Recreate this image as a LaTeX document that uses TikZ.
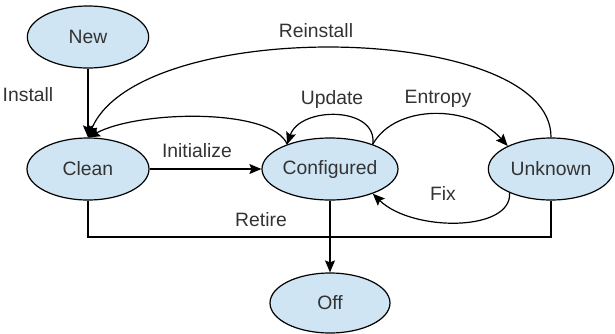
\documentclass[tikz,border=0pt]{standalone}
\usepackage{fontspec}
\setmainfont{Liberation Sans}
\usetikzlibrary{shapes.geometric, arrows.meta}
\definecolor{statefill}{RGB}{207,229,243}
\definecolor{labelgray}{RGB}{51,51,51}

\begin{document}
\begin{tikzpicture}[x=0.75pt, y=-0.75pt, line width=0.9pt,
    state/.style={ellipse, draw, fill=statefill, inner sep=0pt,
      minimum height=46.5pt, text=labelgray,
      font=\fontsize{14.5}{16}\selectfont},
    lbl/.style={text=labelgray, font=\fontsize{14.5}{16}\selectfont},
    tip/.style={-{Stealth[length=9pt, width=7.5pt, inset=1.5pt]}}]
         \useasboundingbox (0,0) rectangle (615,333);
         \node[state, minimum width=91pt] (new) at (88,37) {New};
         \node[state, minimum width=91.5pt] (clean) at (88,169) {Clean};
         \node[state, minimum width=102pt] (conf) at (330,169) {Configured};
         \node[state, minimum width=94pt] (unk) at (551,169) {Unknown};
         \node[state, minimum width=90pt, minimum height=45pt] (off) at (330,303) {Off};
         \coordinate (retire) at (330,237);
         \draw [tip] (new) -- (clean);
         \draw [tip] (clean) -- (conf);
         \draw [tip] (unk.north) .. controls (552,22) and (140,15) .. (clean.north);
         \draw [tip] (conf.150) .. controls (272,108) and (140,110) .. (clean.north);
         \draw [tip] (conf.30) .. controls (378,106) and (300,106) .. (conf.150);
         \draw [tip] (conf.30) .. controls (395,104) and (470,104) .. (unk.152);
         \draw [tip] (unk.210) .. controls (512,232) and (412,232) .. (conf.-30);
         \draw (clean.south) |- (retire) -| (unk.south);
         \draw [tip] (conf.south) -- (off.north);
         \node[lbl] (install) at (28,95) {Install};
         \node[lbl] (reinstall) at (316,31) {Reinstall};
         \node[lbl] (update) at (332,99) {Update};
         \node[lbl] (entropy) at (438,99) {Entropy};
         \node[lbl] (initialize) at (197,151) {Initialize};
         \node[lbl] (fix) at (443,193) {Fix};
         \node[lbl] (retirelbl) at (261,220) {Retire};
       \end{tikzpicture}
\end{document}
